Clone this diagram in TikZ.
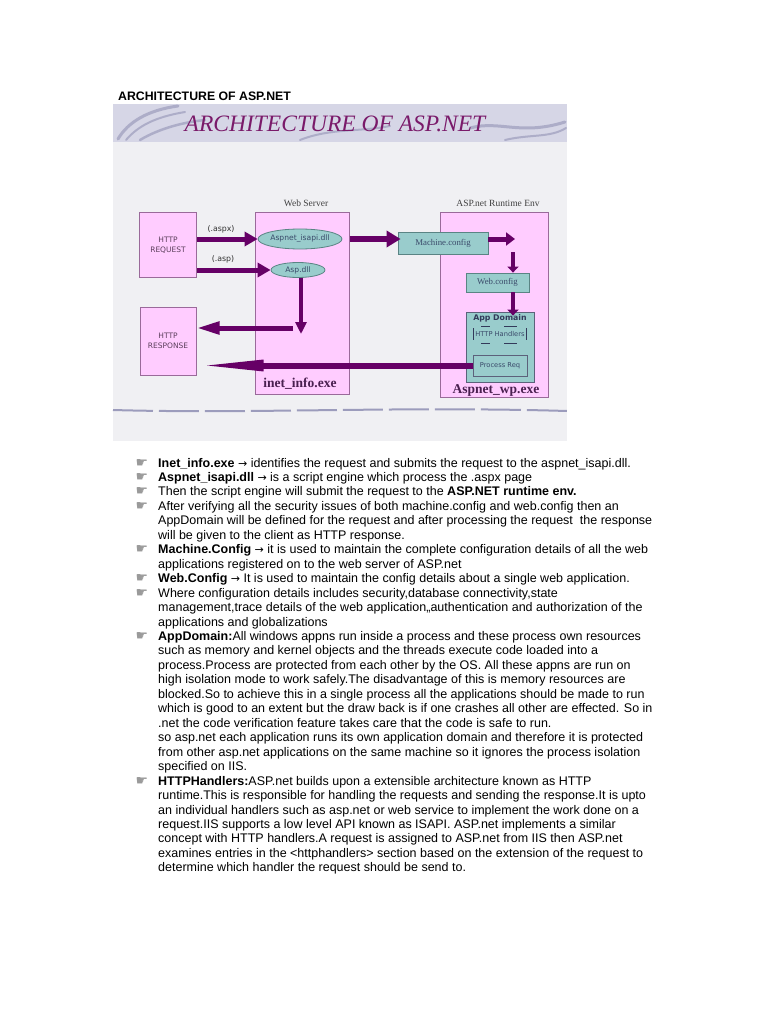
\documentclass[tikz,border=0pt]{standalone}
\usepackage{fontspec}
\setmainfont{Liberation Sans}
\newfontfamily\serifA{Liberation Serif}
\newfontfamily\verd{DejaVu Sans}
\usetikzlibrary{arrows.meta,shapes.geometric}
\definecolor{pinkf}{HTML}{FFCCFF}
\definecolor{pinkd}{HTML}{9A6A9A}
\definecolor{tealf}{HTML}{99CCCC}
\definecolor{teald}{HTML}{5A8484}
\definecolor{arr}{HTML}{660066}
\definecolor{slidebg}{HTML}{F0F0F3}
\definecolor{banner}{HTML}{D6D6E6}
\definecolor{swoosh}{HTML}{9C9CBC}
\definecolor{titlep}{HTML}{7A1A6A}
\definecolor{labtxt}{HTML}{3A4A6A}
\definecolor{exetxt}{HTML}{4A2050}
\definecolor{bulg}{HTML}{9A9A9A}
\definecolor{domd}{HTML}{333A5A}
\newcommand{\BLine}[2]{\node[bodyline] (l#1) at (158,{467+(#1-1)*14.46}) {#2};}
\newcommand{\BMark}[1]{\node[bulletmark] (b#1) at (142,{467+(#1-1)*14.46}) {☛};}
\newcommand{\RA}{{\verd\fontsize{11}{12}\selectfont →}}
\begin{document}
\begin{tikzpicture}[x=1pt,y=-1pt,
  pinkbox/.style={draw=pinkd, fill=pinkf, line width=1pt, inner sep=0pt, align=center,
    font=\verd\fontsize{7.5}{9.5}\selectfont, text=pinkd!60!black},
  tealbox/.style={draw=teald, fill=tealf, line width=0.8pt, inner sep=0pt,
    font=\serifA\fontsize{8.8}{10}\selectfont, text=labtxt},
  oval/.style={ellipse, draw=teald, fill=tealf, line width=0.8pt, inner sep=0pt,
    font=\verd\fontsize{7.6}{8}\selectfont, text=labtxt},
  fat/.style={draw=arr, line width=5pt, -{Triangle[length=13pt, width=14pt]}},
  hdr/.style={font=\serifA\fontsize{9.5}{11}\selectfont, text=black!75},
  exe/.style={font=\serifA\bfseries\fontsize{13.5}{15}\selectfont, text=exetxt},
  lab/.style={font=\verd\fontsize{7.8}{9}\selectfont, text=black!80},
  bodyline/.style={anchor=base west, inner sep=0pt, font=\fontsize{12.5}{14.46}\selectfont},
  bulletmark/.style={anchor=base, inner sep=0pt, font=\verd\fontsize{14}{14}\selectfont, text=bulg},
  swo/.style={draw=swoosh, line cap=round, opacity=0.7}
]
\useasboundingbox (0,0) rectangle (768,1024);
\fill[white] (0,0) rectangle (768,1024);
% heading
\node[anchor=base west, inner sep=0pt, font=\bfseries\fontsize{12.3}{14}\selectfont] (head) at (118,101) {ARCHITECTURE OF ASP.NET};
% slide
\fill[slidebg] (113,104) rectangle (567,441);
\fill[banner] (113,104) rectangle (567,142);
\draw[swo, line width=3] (118,139) .. controls (128,122) and (148,110) .. (178,106);
\draw[swo, line width=2] (126,140) .. controls (138,126) and (155,117) .. (185,112);
\draw[swo, line width=2.5] (140,140) .. controls (160,128) and (185,122) .. (205,120);
\draw[swo, line width=2] (300,140) .. controls (330,128) and (360,132) .. (390,126);
\draw[swo, line width=3] (470,128) .. controls (500,120) and (520,136) .. (565,122);
\draw[swo, line width=2] (505,140) .. controls (530,134) and (550,138) .. (566,128);
\node[font=\serifA\itshape\fontsize{23.5}{26}\selectfont, text=titlep, inner sep=0pt] (title) at (335,124) {ARCHITECTURE OF ASP.NET};
\draw[draw=swoosh, line width=2, dash pattern=on 40pt off 6pt] (113,410) .. controls (250,414) and (400,406) .. (567,411);
% labels
\node[hdr] (wslab) at (306,203) {Web Server};
\node[hdr] (aslab) at (498,203) {ASP.net Runtime Env};
% regions
\node[pinkbox, minimum width=94pt, minimum height=181pt] (ws) at (302,303.5) {};
\node[pinkbox, minimum width=108pt, minimum height=184pt] (as) at (494,305) {};
\node[pinkbox, minimum width=57pt, minimum height=64pt] (req) at (168,245) {HTTP\\REQUEST};
\node[pinkbox, minimum width=56pt, minimum height=68pt] (resp) at (168,341) {HTTP\\RESPONSE};
\node[exe] (inet) at (300,384) {inet\_info.exe};
\node[exe] (wp) at (496,390) {Aspnet\_wp.exe};
% web server parts
\node[oval, minimum width=70pt, minimum height=20pt] (isapi) at (300,239) {Aspnet\_isapi.dll};
\node[oval, minimum width=54pt, minimum height=15pt] (aspdll) at (298,270) {Asp.dll};
% runtime parts
\node[tealbox, minimum width=90pt, minimum height=22pt] (mc) at (443,243) {Machine.config};
\node[tealbox, minimum width=63pt, minimum height=19pt] (wc) at (497.5,282.5) {Web.config};
\node[tealbox, draw=domd!80, minimum width=68pt, minimum height=70pt] (ad) at (500,347) {};
\node[font=\verd\bfseries\fontsize{7.8}{9}\selectfont, text=domd, inner sep=0pt] (adl) at (500,318) {App Domain};
\node[font=\verd\fontsize{6.7}{8}\selectfont, text=labtxt, inner sep=0pt] (hh) at (500,334.5) {HTTP Handlers};
\draw[domd, line width=0.8pt] (481,326) -- (490,326) (504,326) -- (517,326)
  (481,343) -- (490,343) (504,343) -- (517,343)
  (473.5,328) -- (473.5,340) (526.5,328) -- (526.5,340);
\node[tealbox, draw=domd!80, minimum width=54pt, minimum height=21pt,
  font=\verd\fontsize{6.7}{8}\selectfont] (pr) at (500,365.5) {Process Req};
% connectors
\node[lab, inner sep=0pt] (laspx) at (221,229) {(.aspx)};
\node[lab, inner sep=0pt] (lasp) at (223,259) {(.asp)};
\draw[fat] (req.east |- isapi) -- (isapi.west);
\draw[fat] (req.east |- aspdll) -- (aspdll.west);
\coordinate (dn) at (301,334);
\draw[fat, line width=4pt, -{Triangle[length=12pt, width=11pt]}] (aspdll.south -| dn) -- (dn);
\coordinate (lst) at (293,328);
\draw[fat, -{Triangle[length=23pt, width=12pt]}] (lst) -- (resp.east |- lst);
\draw[fat, line width=6pt, -{Triangle[length=14pt, width=16pt]}] (ws.east |- isapi) -- ([xshift=3pt]mc.west |- isapi);
\coordinate (mr) at (515,239);
\draw[fat, -{Triangle[length=9pt, width=13pt]}] (mc.east |- mr) -- (mr);
\coordinate (md) at (513,252);
\draw[fat, line width=4pt, -{Triangle[length=6pt, width=11pt]}] (md) -- (wc.north -| md);
\draw[fat, line width=4pt, -{Triangle[length=6pt, width=11pt]}] (wc.south -| md) -- ([yshift=-4pt]ad.north -| md);
\draw[fat, line width=6pt, -{Triangle[length=70pt, width=10pt]}] (pr.west) -- ([xshift=-3pt]resp.east |- pr.west);
% body text
\BMark{1}\BMark{2}\BMark{3}\BMark{4}\BMark{7}\BMark{9}\BMark{10}\BMark{13}\BMark{23}
\BLine{1}{\textbf{Inet\_info.exe} \RA{} identifies the request and submits the request to the aspnet\_isapi.dll.}
\BLine{2}{\textbf{Aspnet\_isapi.dll} \RA{} is a script engine which process the .aspx page}
\BLine{3}{Then the script engine will submit the request to the \textbf{ASP.NET runtime env.}}
\BLine{4}{After verifying all the security issues of both machine.config and web.config then an}
\BLine{5}{AppDomain will be defined for the request and after processing the request\ \ the response}
\BLine{6}{will be given to the client as HTTP response.}
\BLine{7}{\textbf{Machine.Config} \RA{} it is used to maintain the complete configuration details of all the web}
\BLine{8}{applications registered on to the web server of ASP.net}
\BLine{9}{\textbf{Web.Config} \RA{} It is used to maintain the config details about a single web application.}
\BLine{10}{Where configuration details includes security,database connectivity,state}
\BLine{11}{management,trace details of the web application,,authentication and authorization of the}
\BLine{12}{applications and globalizations}
\BLine{13}{\textbf{AppDomain:}All windows appns run inside a process and these process own resources}
\BLine{14}{such as memory and kernel objects and the threads execute code loaded into a}
\BLine{15}{process.Process are protected from each other by the OS. All these appns are run on}
\BLine{16}{high isolation mode to work safely.The disadvantage of this is memory resources are}
\BLine{17}{blocked.So to achieve this in a single process all the applications should be made to run}
\BLine{18}{which is good to an extent but the draw back is if one crashes all other are effected. So in}
\BLine{19}{.net the code verification feature takes care that the code is safe to run.}
\BLine{20}{so asp.net each application runs its own application domain and therefore it is protected}
\BLine{21}{from other asp.net applications on the same machine so it ignores the process isolation}
\BLine{22}{specified on IIS.}
\BLine{23}{\textbf{HTTPHandlers:}ASP.net builds upon a extensible architecture known as HTTP}
\BLine{24}{runtime.This is responsible for handling the requests and sending the response.It is upto}
\BLine{25}{an individual handlers such as asp.net or web service to implement the work done on a}
\BLine{26}{request.IIS supports a low level API known as ISAPI. ASP.net implements a similar}
\BLine{27}{concept with HTTP handlers.A request is assigned to ASP.net from IIS then ASP.net}
\BLine{28}{examines entries in the <httphandlers> section based on the extension of the request to}
\BLine{29}{determine which handler the request should be send to.}
\end{tikzpicture}
\end{document}
